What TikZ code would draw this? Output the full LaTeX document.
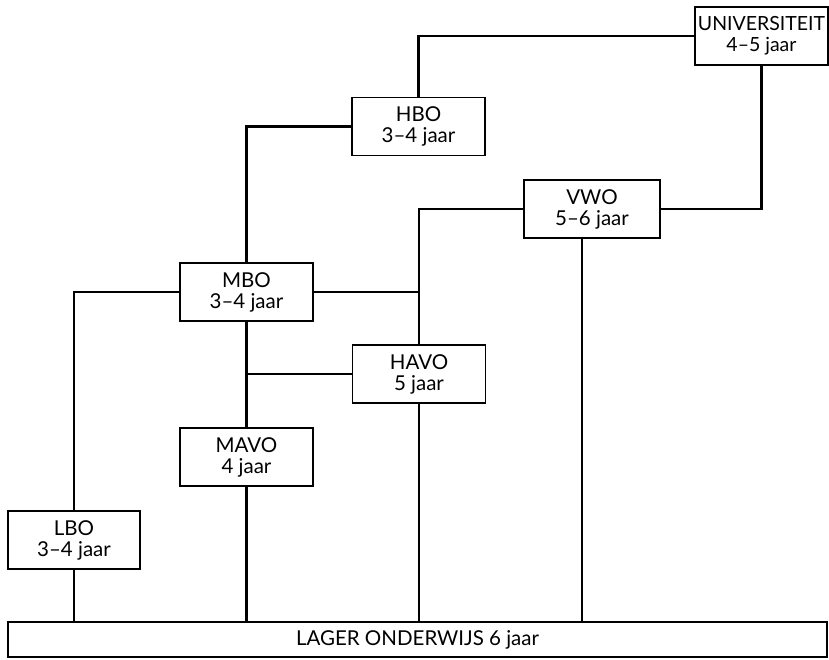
\documentclass[tikz,border=0pt]{standalone}
\usepackage{fontspec}
\setmainfont{Lato}
\usetikzlibrary{positioning}
\tikzset{
  school/.style={draw, line width=1.7pt, align=center, minimum width=133pt,
    minimum height=58pt, inner sep=1pt, font=\fontsize{20.5}{21}\selectfont},
  route/.style={line width=2.4pt}
}

\begin{document}
\begin{tikzpicture}[x=1pt, y=-1pt]
\useasboundingbox (0,0) rectangle (829,659);
% schools
\node[school, font=\fontsize{19.5}{21}\selectfont] (univ) at (761.5,36) {UNIVERSITEIT\\4--5 jaar};
\node[school] (hbo) at (418.5,126.5) {HBO\\3--4 jaar};
\node[school, minimum width=136pt] (vwo) at (592,209) {VWO\\5--6 jaar};
\node[school] (mbo) at (246.5,292) {MBO\\3--4 jaar};
\node[school] (havo) at (419,374) {HAVO\\5 jaar};
\node[school] (mavo) at (246.5,457) {MAVO\\4 jaar};
\node[school, minimum width=132pt] (lbo) at (74,540) {LBO\\3--4 jaar};
\node[school, minimum width=819pt, minimum height=35pt] (lager) at (417.5,639.5) {LAGER ONDERWIJS 6 jaar};
\coordinate (vwofoot) at ([xshift=-10pt]vwo.south);
% routes
\draw[route] (hbo.north) |- (univ.west);
\draw[route] (univ.south) |- (vwo.east);
\draw[route] (mbo.north) |- (hbo.west);
\draw[route] (vwo.west) -| (havo.north);
\draw[route] (mbo.east) -- (mbo.east -| havo.north);
\draw[route] (mbo.west) -| (lbo.north);
\draw[route] (mbo.south) -- (mavo.north);
\draw[route] (havo.west) -- (havo.west -| mavo.north);
\draw[route] (lbo.south) -- (lbo.south |- lager.north);
\draw[route] (mavo.south) -- (mavo.south |- lager.north);
\draw[route] (havo.south) -- (havo.south |- lager.north);
\draw[route] (vwofoot) -- (vwofoot |- lager.north);
\end{tikzpicture}
\end{document}
